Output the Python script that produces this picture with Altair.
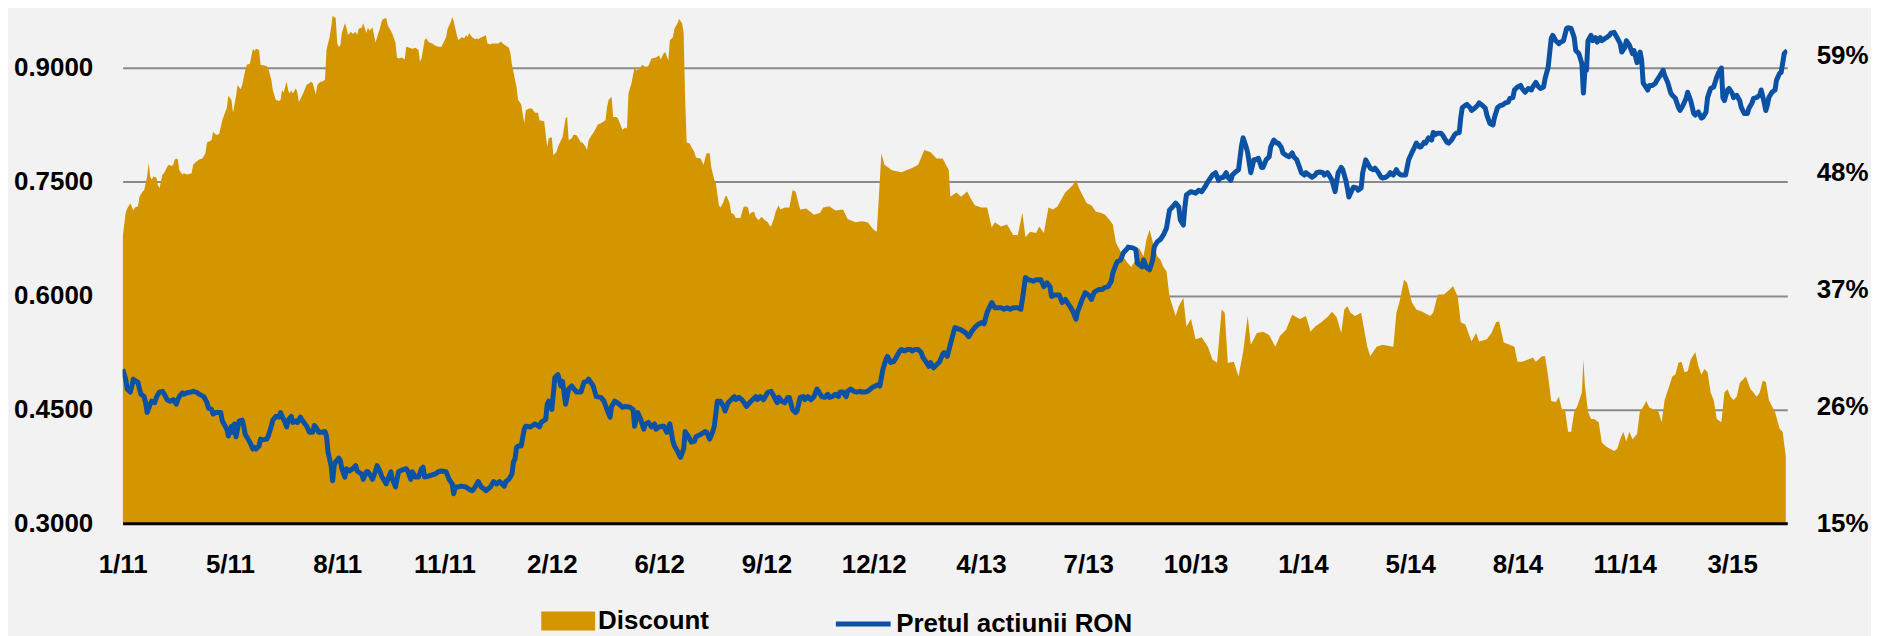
import altair as alt
import pandas as pd

# ---- x axis: trading-day index, a label every 70 sessions ----
x_labels = ["1/11", "5/11", "8/11", "11/11", "2/12", "6/12", "9/12", "12/12",
            "4/13", "7/13", "10/13", "1/14", "5/14", "8/14", "11/14", "3/15"]
label_step = 70
last_day = 1086

# ---- Discount (%), right axis ----
area_day = [
    0, 2, 3, 5, 7, 8, 10, 11, 13, 14,
    16, 17, 18, 19, 20, 22, 23, 24, 26, 27,
    29, 30, 32, 33, 34, 35, 36, 37, 39, 40,
    42, 45, 46, 48, 50, 52, 54, 55, 58, 59,
    61, 63, 65, 68, 69, 71, 72, 74, 75, 77,
    78, 80, 81, 83, 85, 86, 87, 89, 90, 94,
    95, 97, 98, 100, 102, 103, 104, 105, 107, 108,
    109, 110, 111, 113, 114, 115, 117, 118, 120, 123,
    124, 126, 127, 129, 130, 132, 133, 135, 136, 137,
    139, 140, 141, 142, 143, 145, 146, 147, 149, 150,
    152, 153, 154, 156, 157, 159, 160, 161, 163, 165,
    166, 168, 169, 170, 172, 173, 175, 176, 178, 179,
    180, 182, 184, 185, 187, 189, 191, 193, 194, 195,
    197, 198, 200, 202, 204, 206, 208, 211, 212, 214,
    215, 216, 218, 219, 221, 223, 224, 225, 226, 228,
    230, 231, 232, 234, 236, 237, 238, 240, 241, 243,
    245, 247, 248, 250, 252, 253, 254, 256, 257, 258,
    260, 262, 263, 265, 267, 269, 271, 272, 275, 277,
    278, 280, 281, 283, 284, 286, 287, 289, 290, 291,
    293, 294, 296, 297, 299, 300, 302, 303, 304, 306,
    307, 309, 310, 312, 313, 315, 316, 317, 319, 320,
    322, 323, 325, 326, 328, 329, 330, 332, 334, 335,
    337, 339, 341, 343, 345, 348, 350, 351, 353, 354,
    356, 357, 359, 360, 362, 363, 365, 366, 367, 368,
    370, 371, 373, 374, 377, 379, 380, 381, 383, 384,
    386, 387, 389, 390, 392, 393, 394, 396, 397, 399,
    400, 403, 405, 406, 408, 409, 410, 412, 413, 415,
    416, 417, 419, 421, 422, 423, 425, 426, 428, 429,
    432, 435, 437, 439, 442, 446, 451, 455, 457, 461,
    465, 470, 473, 478, 482, 486, 490, 492, 493, 495,
    497, 502, 508, 515, 519, 523, 527, 531, 535, 539,
    540, 544, 547, 551, 553, 556, 560, 564, 567, 569,
    573, 577, 581, 584, 587, 589, 592, 596, 598, 601,
    604, 607, 610, 613, 615, 620, 622, 624, 626, 629,
    632, 635, 638, 641, 644, 646, 648, 652, 655, 658,
    661, 663, 666, 668, 670, 672, 675, 677, 679, 681,
    683, 685, 687, 689, 692, 694, 697, 700, 704, 708,
    711, 714, 717, 719, 721, 725, 728, 731, 734, 736,
    740, 744, 748, 752, 755, 759, 763, 768, 772, 775,
    778, 782, 786, 789, 792, 795, 797, 799, 801, 804,
    808, 810, 812, 814, 818, 822, 829, 831, 833, 836,
    838, 841, 844, 848, 853, 855, 858, 862, 866, 868,
    871, 873, 876, 880, 883, 885, 890, 893, 896, 898,
    901, 905, 908, 910, 913, 917, 920, 922, 926, 928,
    930, 932, 935, 937, 939, 941, 943, 945, 947, 949,
    952, 953, 954, 956, 958, 960, 963, 965, 968, 973,
    975, 977, 979, 981, 983, 985, 988, 990, 991, 994,
    996, 999, 1002, 1004, 1006, 1009, 1011, 1013, 1015, 1017,
    1019, 1021, 1023, 1026, 1028, 1030, 1032, 1034, 1036, 1038,
    1040, 1043, 1045, 1047, 1049, 1051, 1053, 1055, 1057, 1059,
    1062, 1064, 1066, 1068, 1070, 1072, 1074, 1076, 1078, 1081,
    1083, 1085,
]
area_disc = [
    41.9, 44.2, 44.6, 45.1, 44.4, 44.7, 44.8, 45.7, 46.2, 46.3,
    47.6, 48.9, 47.6, 47.3, 47.6, 47.5, 46.8, 46.5, 47.8, 47.9,
    48.5, 48.7, 48.6, 48.7, 49.2, 49.3, 49.2, 48.2, 47.8, 47.9,
    47.8, 47.9, 48.7, 49.0, 49.2, 49.3, 49.8, 50.8, 51.0, 51.8,
    51.5, 51.6, 52.9, 54.1, 55.2, 54.8, 53.6, 55.2, 56.2, 55.8,
    56.2, 57.6, 58.1, 58.2, 59.6, 59.4, 59.6, 59.5, 58.1, 58.0,
    57.8, 56.7, 55.7, 54.8, 54.7, 54.8, 55.7, 55.5, 56.5, 55.7,
    55.4, 55.7, 55.4, 55.9, 55.5, 54.6, 55.2, 55.5, 56.2, 56.5,
    56.4, 55.3, 56.2, 56.5, 56.5, 56.7, 59.5, 60.7, 61.6, 62.7,
    62.5, 60.1, 59.8, 59.9, 61.1, 62.0, 61.6, 60.9, 61.2, 61.0,
    61.2, 60.9, 61.5, 61.6, 62.0, 61.1, 61.6, 61.3, 61.6, 60.2,
    60.7, 61.6, 62.2, 62.4, 62.5, 61.8, 61.3, 61.0, 60.2, 58.8,
    58.7, 58.8, 58.6, 59.8, 59.7, 59.6, 59.7, 59.5, 58.4, 58.7,
    60.4, 60.6, 60.2, 60.1, 59.9, 59.8, 59.8, 60.7, 61.5, 62.1,
    62.6, 62.2, 60.9, 60.4, 60.7, 60.6, 60.9, 60.7, 61.1, 60.7,
    60.5, 60.6, 60.5, 60.7, 60.8, 60.9, 60.1, 60.0, 60.1, 60.1,
    60.1, 60.3, 60.1, 59.9, 59.7, 59.2, 58.1, 56.7, 56.0, 54.8,
    54.4, 52.6, 53.8, 54.0, 54.0, 53.6, 53.6, 52.9, 52.8, 50.4,
    51.2, 51.3, 49.6, 49.9, 50.4, 51.0, 51.3, 53.1, 53.2, 51.0,
    51.2, 51.5, 51.5, 51.3, 50.8, 50.8, 50.4, 50.1, 51.0, 51.5,
    51.7, 52.2, 52.5, 52.6, 52.7, 52.9, 54.1, 54.8, 55.1, 53.2,
    53.2, 53.1, 52.4, 52.0, 52.2, 52.1, 55.4, 56.4, 57.9, 57.6,
    57.7, 58.1, 57.9, 58.0, 58.7, 58.8, 59.0, 58.6, 59.2, 59.3,
    58.5, 60.4, 60.7, 61.5, 62.0, 62.4, 62.0, 61.1, 54.8, 50.8,
    50.7, 50.4, 49.9, 49.4, 49.3, 48.7, 49.3, 49.8, 49.8, 48.5,
    47.3, 47.0, 44.9, 44.7, 45.2, 45.7, 45.8, 45.1, 44.2, 44.0,
    43.7, 43.7, 44.7, 44.8, 44.7, 44.0, 44.2, 44.3, 43.8, 43.5,
    43.7, 43.8, 43.5, 43.3, 43.0, 42.9, 43.7, 44.3, 44.9, 44.5,
    44.7, 44.7, 46.3, 46.2, 44.5, 44.6, 44.0, 44.2, 44.7, 44.8,
    44.4, 44.5, 43.6, 43.3, 43.4, 43.3, 42.6, 42.4, 44.8, 49.8,
    48.7, 48.2, 48.0, 48.4, 48.7, 50.1, 49.9, 49.3, 49.3, 48.2,
    45.7, 46.1, 45.7, 46.2, 45.6, 44.9, 44.7, 44.7, 42.8, 43.3,
    42.9, 43.1, 42.1, 42.1, 44.2, 41.9, 42.4, 42.3, 42.9, 42.3,
    44.7, 44.5, 44.8, 45.6, 46.1, 46.8, 47.3, 46.5, 45.9, 45.1,
    44.9, 44.3, 44.2, 44.0, 43.5, 43.1, 41.4, 40.3, 39.6, 39.1,
    39.8, 40.9, 40.1, 41.7, 42.6, 41.5, 40.1, 39.8, 39.1, 38.7,
    36.3, 35.4, 34.5, 35.4, 36.2, 33.5, 34.2, 32.3, 32.5, 31.6,
    30.4, 30.1, 35.1, 34.8, 30.1, 30.2, 28.8, 31.1, 34.5, 31.8,
    32.9, 33.0, 32.7, 31.6, 32.6, 33.2, 34.6, 34.2, 34.5, 33.0,
    33.5, 33.9, 34.4, 34.9, 34.4, 32.9, 35.1, 35.4, 34.8, 34.5,
    34.8, 33.2, 31.6, 30.7, 31.6, 31.8, 31.6, 34.8, 35.8, 37.9,
    37.6, 35.8, 35.1, 34.9, 34.5, 34.8, 36.5, 36.5, 37.0, 37.3,
    36.3, 33.9, 33.7, 32.1, 32.9, 32.1, 32.3, 32.9, 33.9, 34.0,
    32.0, 31.8, 31.6, 30.2, 30.2, 30.4, 30.6, 30.2, 30.7, 30.7,
    28.8, 26.5, 26.4, 26.9, 25.7, 25.7, 23.6, 23.6, 25.5, 26.0,
    27.3, 30.4, 27.9, 25.5, 24.8, 24.8, 24.5, 22.6, 22.2, 21.8,
    22.0, 22.9, 23.6, 22.7, 23.6, 22.9, 23.4, 25.7, 25.7, 26.5,
    25.9, 25.7, 25.5, 24.5, 26.6, 27.9, 28.8, 29.0, 30.1, 30.2,
    29.2, 29.3, 30.4, 31.1, 29.8, 29.0, 29.5, 29.2, 27.3, 26.6,
    24.8, 24.5, 27.3, 27.6, 26.9, 26.6, 26.9, 28.2, 28.5, 28.8,
    27.6, 27.3, 26.9, 27.3, 28.4, 28.3, 26.6, 26.0, 25.5, 23.9,
    23.6, 21.3,
]

# ---- Share price (RON), left axis ----
line_day = [
    0, 2, 3, 5, 6, 7, 9, 10, 11, 12,
    14, 15, 16, 18, 19, 21, 22, 24, 26, 28,
    29, 31, 33, 35, 36, 37, 39, 40, 42, 45,
    46, 48, 50, 53, 55, 56, 58, 59, 61, 64,
    65, 68, 69, 71, 72, 73, 74, 76, 78, 79,
    80, 81, 83, 85, 86, 87, 89, 90, 91, 94,
    95, 97, 98, 100, 102, 103, 105, 106, 107, 108,
    110, 111, 113, 114, 116, 117, 119, 120, 122, 124,
    125, 126, 128, 130, 132, 133, 134, 136, 137, 138,
    139, 141, 142, 143, 145, 146, 148, 150, 152, 153,
    156, 157, 159, 160, 162, 163, 165, 166, 168, 169,
    172, 173, 175, 176, 178, 179, 180, 182, 185, 186,
    188, 189, 191, 193, 195, 196, 197, 199, 202, 204,
    206, 208, 211, 213, 215, 216, 217, 219, 221, 224,
    226, 228, 229, 230, 232, 234, 236, 237, 240, 242,
    244, 246, 249, 250, 252, 254, 255, 256, 257, 258,
    260, 262, 263, 266, 269, 272, 273, 276, 277, 278,
    280, 282, 284, 286, 287, 289, 291, 293, 296, 299,
    301, 303, 304, 307, 309, 312, 314, 316, 318, 319,
    321, 324, 326, 328, 331, 333, 334, 336, 338, 340,
    341, 343, 345, 347, 348, 350, 352, 353, 355, 357,
    359, 360, 362, 364, 366, 367, 369, 371, 373, 374,
    377, 380, 381, 383, 385, 386, 388, 390, 392, 393,
    395, 397, 399, 400, 402, 404, 406, 407, 409, 411,
    413, 414, 416, 418, 419, 421, 423, 425, 427, 428,
    430, 432, 434, 435, 437, 439, 440, 442, 444, 445,
    447, 449, 451, 453, 454, 456, 458, 460, 461, 463,
    465, 467, 468, 470, 472, 473, 475, 477, 479, 481,
    482, 484, 486, 488, 489, 491, 493, 494, 496, 498,
    499, 501, 503, 505, 507, 508, 510, 512, 514, 515,
    517, 519, 521, 522, 524, 526, 527, 529, 531, 533,
    535, 536, 538, 540, 542, 543, 547, 550, 552, 554,
    556, 558, 561, 562, 564, 567, 569, 571, 573, 575,
    577, 579, 581, 584, 586, 587, 589, 591, 594, 596,
    599, 601, 603, 605, 606, 608, 611, 613, 615, 618,
    620, 622, 623, 624, 626, 628, 630, 632, 634, 637,
    639, 641, 643, 645, 646, 648, 649, 651, 653, 655,
    656, 659, 661, 662, 665, 666, 668, 670, 672, 673,
    675, 677, 679, 681, 683, 685, 687, 689, 690, 692,
    693, 694, 697, 700, 702, 704, 706, 708, 711, 713,
    715, 716, 718, 720, 721, 723, 724, 726, 728, 730,
    731, 733, 734, 736, 738, 739, 741, 743, 744, 746,
    748, 749, 751, 753, 754, 756, 757, 759, 761, 763,
    764, 766, 768, 769, 771, 772, 774, 776, 778, 779,
    781, 783, 784, 786, 787, 789, 791, 792, 793, 795,
    796, 798, 799, 800, 802, 803, 805, 806, 808, 809,
    811, 812, 814, 816, 817, 819, 821, 822, 824, 826,
    827, 829, 831, 832, 834, 835, 837, 839, 841, 842,
    844, 846, 847, 849, 850, 852, 854, 855, 856, 858,
    860, 861, 864, 865, 867, 869, 870, 872, 873, 874,
    877, 879, 880, 882, 884, 885, 887, 889, 890, 892,
    894, 895, 897, 899, 900, 902, 904, 905, 907, 908,
    910, 912, 913, 915, 917, 919, 920, 922, 923, 925,
    927, 928, 930, 932, 933, 935, 937, 938, 940, 942,
    943, 945, 947, 948, 950, 952, 953, 954, 955, 956,
    958, 959, 961, 962, 964, 965, 967, 968, 970, 971,
    973, 975, 977, 978, 980, 981, 983, 985, 986, 988,
    990, 991, 992, 993, 995, 996, 998, 1000, 1001, 1003,
    1005, 1006, 1008, 1010, 1011, 1013, 1015, 1016, 1018, 1020,
    1021, 1023, 1025, 1026, 1028, 1030, 1031, 1033, 1034, 1036,
    1038, 1040, 1041, 1043, 1044, 1045, 1047, 1048, 1050, 1051,
    1053, 1055, 1056, 1058, 1060, 1061, 1063, 1064, 1066, 1068,
    1069, 1071, 1072, 1073, 1074, 1076, 1078, 1079, 1081, 1082,
    1084, 1086,
]
line_price = [
    .503, .490, .477, .473, .481, .490, .487, .486, .477, .470,
    .467, .459, .446, .457, .461, .459, .466, .473, .474, .467,
    .463, .461, .463, .457, .463, .467, .472, .470, .472, .473,
    .474, .473, .470, .467, .459, .452, .450, .444, .446, .446,
    .435, .424, .415, .428, .420, .431, .414, .435, .436, .428,
    .417, .414, .407, .398, .400, .398, .402, .411, .410, .411,
    .415, .428, .436, .441, .440, .446, .437, .433, .427, .436,
    .441, .433, .435, .433, .440, .436, .431, .428, .420, .420,
    .429, .427, .420, .420, .421, .415, .394, .376, .356, .376,
    .381, .386, .383, .372, .361, .372, .369, .372, .376, .369,
    .365, .358, .368, .368, .362, .358, .369, .376, .368, .362,
    .352, .358, .368, .358, .348, .358, .368, .370, .372, .369,
    .358, .368, .361, .361, .372, .374, .361, .362, .364, .365,
    .368, .369, .368, .358, .352, .339, .348, .348, .349, .348,
    .345, .343, .345, .348, .355, .348, .345, .343, .348, .355,
    .352, .355, .349, .355, .358, .365, .381, .385, .400, .402,
    .402, .424, .428, .427, .431, .427, .433, .437, .457, .461,
    .450, .492, .496, .481, .487, .457, .477, .481, .473, .473,
    .486, .487, .490, .481, .467, .466, .461, .450, .440, .454,
    .461, .457, .453, .454, .453, .450, .428, .446, .437, .424,
    .431, .433, .427, .431, .424, .427, .428, .428, .420, .431,
    .408, .402, .395, .387, .398, .421, .415, .407, .408, .414,
    .417, .421, .420, .411, .421, .428, .461, .461, .454, .448,
    .459, .463, .467, .463, .466, .463, .457, .454, .459, .463,
    .467, .463, .467, .463, .466, .473, .474, .467, .459, .466,
    .461, .459, .466, .466, .450, .446, .448, .466, .467, .463,
    .467, .463, .467, .477, .474, .467, .466, .470, .466, .467,
    .470, .467, .473, .473, .467, .474, .477, .474, .473, .474,
    .473, .473, .474, .477, .479, .481, .483, .481, .503, .516,
    .520, .512, .513, .520, .527, .529, .527, .529, .529, .527,
    .529, .529, .525, .519, .513, .507, .512, .505, .509, .513,
    .523, .525, .520, .536, .551, .558, .555, .551, .546, .553,
    .558, .562, .565, .563, .578, .591, .584, .584, .584, .582,
    .584, .582, .584, .584, .582, .595, .624, .621, .619, .621,
    .621, .612, .617, .612, .599, .601, .601, .591, .595, .586,
    .579, .569, .579, .584, .595, .604, .601, .595, .605, .608,
    .608, .611, .612, .619, .630, .641, .645, .647, .657, .661,
    .664, .663, .661, .643, .638, .647, .637, .634, .647, .664,
    .671, .674, .680, .689, .713, .717, .722, .717, .700, .693,
    .717, .733, .737, .735, .739, .737, .743, .750, .759, .762,
    .752, .755, .756, .762, .756, .752, .759, .763, .766, .798,
    .808, .796, .788, .762, .779, .779, .781, .769, .769, .779,
    .783, .796, .805, .801, .801, .795, .788, .785, .783, .788,
    .783, .779, .768, .762, .759, .762, .759, .756, .759, .762,
    .763, .762, .759, .762, .759, .752, .737, .750, .762, .769,
    .766, .752, .742, .730, .739, .743, .742, .739, .742, .762,
    .779, .775, .768, .766, .768, .763, .756, .755, .756, .759,
    .762, .759, .766, .762, .759, .759, .759, .779, .788, .792,
    .801, .796, .796, .802, .801, .808, .805, .815, .812, .814,
    .814, .812, .802, .801, .805, .812, .814, .815, .835, .848,
    .852, .848, .844, .847, .851, .854, .851, .847, .838, .827,
    .825, .835, .848, .851, .851, .854, .855, .860, .861, .871,
    .875, .877, .873, .868, .873, .871, .875, .881, .877, .873,
    .875, .886, .901, .939, .943, .936, .932, .934, .936, .952,
    .953, .952, .940, .923, .919, .906, .867, .897, .897, .936,
    .943, .936, .940, .934, .940, .936, .939, .940, .943, .946,
    .947, .940, .932, .921, .927, .936, .930, .919, .923, .907,
    .921, .910, .880, .877, .871, .877, .877, .880, .884, .890,
    .897, .890, .881, .867, .864, .860, .848, .844, .851, .860,
    .868, .857, .840, .838, .842, .834, .835, .842, .861, .873,
    .875, .888, .893, .900, .861, .857, .871, .873, .867, .861,
    .864, .857, .848, .840, .840, .847, .854, .860, .861, .864,
    .871, .854, .844, .851, .861, .868, .871, .884, .893, .894,
    .919, .923,
]

left_ticks = [0.30, 0.45, 0.60, 0.75, 0.90]
right_ticks = [15, 26, 37, 48, 59]
series_names = ["Discount", "Pretul actiunii RON"]

FONT = "Liberation Sans"
FS = 26
AREA_COLOR = "#D49600"
LINE_COLOR = "#0B51A4"
BG = "#F2F2F2"

df_area = pd.DataFrame({"day": area_day, "discount": area_disc})
df_area["serie"] = series_names[0]
df_line = pd.DataFrame({"day": line_day, "price": line_price})
df_line["serie"] = series_names[1]

label_array = "[" + ",".join("'" + s + "'" for s in x_labels) + "]"
x_enc = alt.X(
    "day:Q",
    scale=alt.Scale(domain=[0, last_day], nice=False, zero=False),
    axis=alt.Axis(
        values=[i * label_step for i in range(len(x_labels))],
        labelExpr=label_array + "[round(datum.value / %d)]" % label_step,
        title=None, grid=False, ticks=False,
        domain=True, domainColor="#000000", domainWidth=3,
        labelFont=FONT, labelFontSize=FS, labelFontWeight="bold", labelColor="#000000",
        labelPadding=28, labelAngle=0, labelOverlap=False, labelFlush=False,
        labelBaseline="top", zindex=1,
    ),
)

area = alt.Chart(df_area).mark_area(clip=True, interpolate="linear").encode(
    x=x_enc,
    y=alt.Y(
        "discount:Q",
        scale=alt.Scale(domain=[15, 63.16], nice=False, zero=False),
        axis=alt.Axis(
            orient="right", values=right_ticks, labelExpr="datum.value + '%'",
            title=None, grid=False, ticks=False, domain=False,
            labelFont=FONT, labelFontSize=FS, labelFontWeight="bold", labelColor="#000000",
            labelPadding=29, labelAlign="left", labelBaseline="middle",
        ),
    ),
    fill=alt.Fill(
        "serie:N",
        scale=alt.Scale(domain=[series_names[0]], range=[AREA_COLOR]),
        legend=alt.Legend(
            title=None, orient="none", legendX=420, legendY=585, padding=0,
            symbolType="M-1,-0.35L1,-0.35L1,0.35L-1,0.35Z", symbolSize=2916,
            symbolStrokeWidth=0, labelOffset=3, labelLimit=500,
            labelFont=FONT, labelFontSize=FS, labelFontWeight="bold", labelColor="#000000",
        ),
    ),
)

line = alt.Chart(df_line).mark_line(clip=True, strokeWidth=5, strokeJoin="round").encode(
    x=x_enc,
    y=alt.Y(
        "price:Q",
        scale=alt.Scale(domain=[0.3, 0.9751], nice=False, zero=False),
        axis=alt.Axis(
            orient="left", values=left_ticks, format=".4f",
            title=None, grid=True, gridColor="#8A8A8A", gridWidth=2,
            ticks=False, domain=False,
            labelFont=FONT, labelFontSize=FS, labelFontWeight="bold", labelColor="#000000",
            labelPadding=30,
        ),
    ),
    stroke=alt.Stroke(
        "serie:N",
        scale=alt.Scale(domain=[series_names[1]], range=[LINE_COLOR]),
        legend=alt.Legend(
            title=None, orient="none", legendX=713, legendY=585, padding=0,
            symbolType="stroke", symbolSize=3025, symbolStrokeWidth=5, labelOffset=3,
            labelLimit=500,
            labelFont=FONT, labelFontSize=FS, labelFontWeight="bold", labelColor="#000000",
        ),
    ),
)

chart = (
    alt.layer(area, line)
    .resolve_scale(y="independent")
    .properties(
        width=1670, height=514,
        padding={"left": 115, "top": 2, "right": 84, "bottom": 112},
        autosize=alt.AutoSizeParams(type="none"),
        background=BG,
    )
    .configure_view(stroke=None)
)

chart.save("out.html", embed_options={"renderer": "svg", "actions": False})
